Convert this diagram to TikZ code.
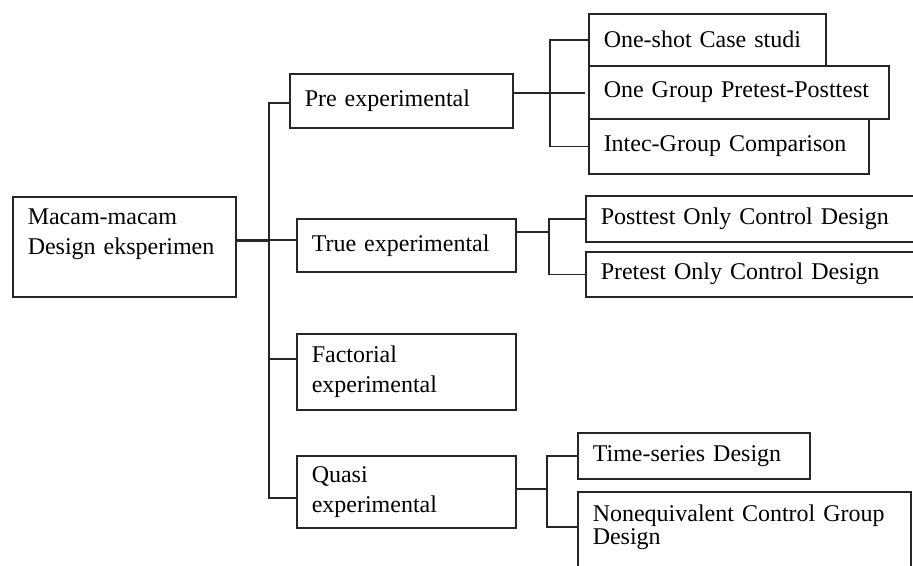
\documentclass[tikz,border=0pt]{standalone}
\usepackage{fontspec}
\setmainfont{Liberation Serif}
\usetikzlibrary{positioning}

\begin{document}
\begin{tikzpicture}[x=1pt, y=-1pt,
    box/.style={draw=black!85, line width=1.5pt, anchor=north west, align=left,
        inner xsep=15pt, inner ysep=0pt, font=\fontsize{24}{30}\selectfont},
    link/.style={draw=black!85, line width=1.5pt}]
        \useasboundingbox[fill=white] (0,0) rectangle (913,565);
        \clip (0,0) rectangle (913,565);

        % root and first level
        \node[box, text width=193pt, minimum height=100pt] (root) at (12,196) {Macam-macam\\Design eksperimen\\ \mbox{}};
        \node[box, text width=193pt, minimum height=54pt] (pre) at (289,73) {Pre experimental};
        \node[box, text width=189pt, minimum height=53pt] (true) at (296,218) {True experimental};
        \node[box, text width=189pt, minimum height=76pt] (fact) at (296,333) {Factorial\\experimental};
        \node[box, text width=189pt, minimum height=72pt] (quasi) at (296,455) {Quasi\\experimental};

        % second level
        \node[box, text width=207pt, minimum height=52pt] (oneshot) at (588,13) {One-shot Case studi};
        \node[box, text width=270pt, minimum height=53pt] (onegroup) at (588,65) {One Group Pretest-Posttest};
        \node[box, text width=250pt, minimum height=55pt] (intec) at (588,118) {Intec-Group Comparison};
        \node[box, text width=310pt, minimum height=46pt] (posttest) at (585,195) {Posttest Only Control Design};
        \node[box, text width=310pt, minimum height=45pt] (pretest) at (585,251) {Pretest Only Control Design};
        \node[box, text width=202pt, minimum height=46pt] (timeseries) at (577,432) {Time-series Design};
        \node[box, text width=303pt, minimum height=96pt] (noneq) at (577,491) {Nonequivalent Control Group\\[-7pt]Design\\ \mbox{}};

        \coordinate (hub) at (269,240);
        \coordinate (prej) at (550,93);
        \coordinate (truej) at (549,232);
        \coordinate (quasij) at (547,489);

        % trunk
        \draw[link, line width=3pt] (root.east |- hub) -- (hub);
        \draw[link] (pre.west |- 0,103) -| (hub) |- (quasi.west |- 0,498);
        \draw[link] (hub) -- (true.west |- hub);
        \draw[link] (hub |- 0,359) -- (fact.west |- 0,359);

        % branches
        \draw[link] (pre.east |- prej) -- (prej);
        \draw[link] (oneshot.west) -| (prej) |- (intec.west);
        \draw[link] (prej) -- ([xshift=-3pt]onegroup.west |- prej);
        \draw[link] (true.east |- truej) -- (truej);
        \draw[link] (posttest.west) -| (truej) |- (pretest.west);
        \draw[link] (quasi.east |- quasij) -- (quasij);
        \draw[link] (timeseries.west) -| (quasij) |- (noneq.west |- 0,527);
\end{tikzpicture}
\end{document}
